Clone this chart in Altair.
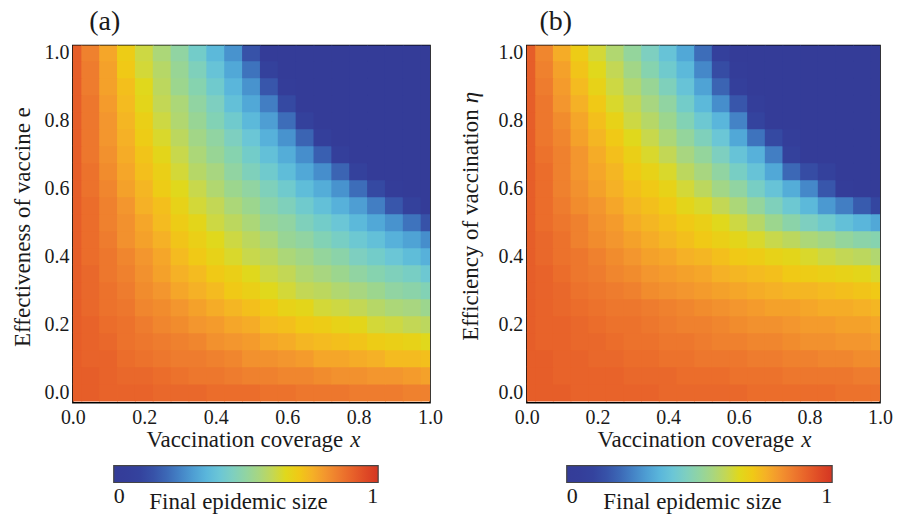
import altair as alt
import pandas as pd

# ---------------- data ----------------
X_GRID = [0.0, 0.05, 0.1, 0.15, 0.2, 0.25, 0.3, 0.35, 0.4, 0.45, 0.5,
          0.55, 0.6, 0.65, 0.7, 0.75, 0.8, 0.85, 0.9, 0.95, 1.0]
E_GRID = [0.0, 0.05, 0.1, 0.15, 0.2, 0.25, 0.3, 0.35, 0.4, 0.45, 0.5,
          0.55, 0.6, 0.65, 0.7, 0.75, 0.8, 0.85, 0.9, 0.95, 1.0]

# final epidemic size (percent), one row per e value (bottom row first), columns follow X_GRID
A_ROWS = [
    [91, 91, 90, 90, 90, 89, 89, 89, 88, 88, 88, 87, 87, 86, 86, 86, 85, 85, 85, 84, 84],
    [91, 91, 90, 89, 89, 88, 87, 86, 86, 85, 84, 84, 83, 83, 82, 81, 81, 80, 80, 79, 78],
    [91, 90, 90, 88, 87, 86, 85, 85, 84, 83, 81, 81, 80, 79, 77, 77, 76, 75, 73, 73, 72],
    [91, 90, 89, 87, 86, 85, 84, 83, 81, 80, 79, 77, 76, 74, 73, 72, 71, 69, 68, 67, 65],
    [91, 90, 88, 87, 85, 83, 82, 80, 79, 77, 76, 73, 72, 70, 69, 67, 66, 63, 62, 60, 59],
    [91, 89, 87, 86, 83, 82, 80, 78, 76, 74, 72, 70, 67, 66, 63, 62, 60, 58, 56, 55, 53],
    [91, 89, 87, 85, 82, 80, 77, 75, 73, 70, 68, 65, 63, 60, 59, 57, 55, 53, 50, 49, 47],
    [91, 89, 86, 84, 81, 78, 75, 73, 70, 68, 65, 62, 60, 57, 55, 53, 50, 48, 46, 44, 41],
    [91, 88, 86, 83, 80, 77, 73, 70, 67, 64, 61, 59, 56, 54, 51, 49, 45, 43, 40, 37, 34],
    [91, 88, 85, 81, 78, 75, 71, 68, 65, 62, 59, 56, 52, 50, 47, 44, 41, 38, 34, 31, 27],
    [91, 88, 84, 81, 77, 73, 69, 66, 62, 59, 56, 52, 50, 46, 43, 40, 36, 32, 28, 22, 15],
    [91, 88, 84, 80, 75, 72, 67, 63, 60, 56, 53, 49, 46, 42, 38, 34, 30, 24, 16, 8, 1],
    [91, 87, 83, 78, 74, 69, 65, 61, 57, 53, 50, 46, 42, 37, 33, 28, 21, 12, 3, 0, 0],
    [91, 87, 82, 77, 72, 68, 63, 58, 55, 50, 46, 42, 37, 32, 27, 19, 8, 1, 0, 0, 0],
    [91, 86, 81, 76, 71, 66, 61, 56, 52, 48, 43, 38, 33, 27, 18, 6, 0, 0, 0, 0, 0],
    [91, 86, 80, 75, 69, 64, 59, 54, 50, 45, 40, 34, 28, 19, 6, 0, 0, 0, 0, 0, 0],
    [91, 86, 80, 74, 68, 62, 57, 52, 47, 42, 36, 30, 21, 8, 0, 0, 0, 0, 0, 0, 0],
    [91, 86, 79, 73, 66, 60, 56, 50, 45, 38, 32, 24, 12, 1, 0, 0, 0, 0, 0, 0, 0],
    [91, 85, 78, 72, 65, 59, 53, 48, 42, 35, 28, 16, 3, 0, 0, 0, 0, 0, 0, 0, 0],
    [91, 85, 78, 70, 63, 58, 52, 46, 39, 32, 22, 8, 0, 0, 0, 0, 0, 0, 0, 0, 0],
    [91, 84, 77, 69, 62, 56, 50, 43, 36, 28, 15, 1, 0, 0, 0, 0, 0, 0, 0, 0, 0],
]

B_ROWS = [
    [91, 91, 91, 90, 90, 90, 90, 90, 89, 89, 89, 89, 89, 88, 88, 88, 88, 88, 87, 87, 87],
    [91, 91, 90, 90, 90, 90, 89, 89, 89, 88, 88, 88, 87, 87, 87, 86, 86, 86, 86, 85, 85],
    [91, 91, 90, 90, 89, 89, 88, 88, 87, 87, 86, 86, 86, 85, 85, 84, 84, 83, 83, 82, 82],
    [91, 90, 90, 89, 89, 88, 87, 87, 86, 86, 85, 84, 84, 83, 83, 82, 81, 81, 80, 80, 79],
    [91, 90, 90, 89, 88, 87, 87, 86, 85, 84, 84, 83, 82, 81, 81, 80, 79, 79, 78, 78, 77],
    [91, 90, 89, 88, 87, 86, 86, 85, 84, 83, 82, 81, 80, 79, 78, 78, 77, 76, 76, 75, 74],
    [91, 90, 89, 87, 86, 85, 84, 82, 81, 80, 79, 78, 77, 76, 75, 74, 74, 73, 72, 71, 70],
    [91, 90, 88, 86, 85, 83, 82, 80, 79, 78, 77, 75, 74, 73, 72, 70, 69, 68, 67, 66, 64],
    [91, 89, 87, 86, 84, 82, 80, 78, 77, 75, 74, 72, 70, 69, 67, 66, 64, 62, 60, 59, 57],
    [91, 89, 87, 84, 82, 80, 78, 76, 74, 72, 70, 68, 66, 64, 61, 59, 56, 54, 51, 49, 48],
    [91, 88, 86, 84, 81, 79, 76, 74, 72, 70, 68, 65, 62, 58, 53, 49, 45, 42, 38, 35, 32],
    [91, 88, 85, 82, 80, 77, 74, 72, 70, 66, 64, 60, 56, 51, 46, 41, 36, 29, 24, 17, 11],
    [91, 88, 84, 81, 78, 75, 72, 70, 67, 63, 59, 54, 50, 44, 39, 33, 26, 16, 3, 0, 0],
    [91, 88, 84, 80, 77, 74, 70, 67, 64, 59, 55, 50, 44, 39, 32, 20, 13, 8, 1, 0, 0],
    [91, 87, 84, 80, 76, 72, 68, 64, 60, 55, 51, 45, 39, 34, 24, 8, 0, 0, 0, 0, 0],
    [91, 86, 83, 78, 74, 70, 65, 61, 56, 51, 46, 40, 32, 22, 12, 4, 0, 0, 0, 0, 0],
    [91, 86, 82, 77, 72, 67, 62, 58, 53, 47, 41, 35, 25, 10, 0, 0, 0, 0, 0, 0, 0],
    [91, 86, 80, 75, 70, 64, 60, 55, 50, 43, 36, 27, 16, 5, 0, 0, 0, 0, 0, 0, 0],
    [91, 85, 79, 73, 67, 62, 57, 52, 46, 39, 31, 19, 6, 0, 0, 0, 0, 0, 0, 0, 0],
    [91, 84, 78, 71, 65, 60, 54, 48, 42, 36, 26, 13, 3, 0, 0, 0, 0, 0, 0, 0, 0],
    [91, 83, 76, 69, 63, 57, 51, 45, 39, 32, 21, 7, 0, 0, 0, 0, 0, 0, 0, 0, 0],
]

X_TICKS = [0.0, 0.2, 0.4, 0.6, 0.8, 1.0]
Y_TICKS = [0.0, 0.2, 0.4, 0.6, 0.8, 1.0]
CB_TICKS = [0, 1]

PANEL_LABELS = ["(a)", "(b)"]
X_TITLE = "Vaccination coverage"
X_TITLE_VAR = "x"
Y_TITLE_A = "Effectiveness of vaccine e"
Y_TITLE_B = "Efficiency of vaccination"
Y_TITLE_B_VAR = "\u03b7"
CB_TITLE = "Final epidemic size"

# colour map (jet-like, sampled from the colour bar), evenly spaced 0 .. 1
CMAP = ["#343c98", "#343e9a", "#34439e", "#3752a8", "#3c68b6", "#4483c6",
        "#4e9ed3", "#5ab6db", "#6bc6d6", "#7ecfc0", "#91d4a2", "#a8d680",
        "#c3d755", "#e0d81c", "#f0c916", "#f5b126", "#f3962e", "#ee7c2e",
        "#e8632a", "#df4b26", "#d43623"]

FONT = "Liberation Serif, Times New Roman, serif"
INK = "#1a1a1a"
PLOT_H = 358
HALF = 0.0262   # half a grid step plus a hair of overlap so no seams show


def grid_frame(rows):
    recs = []
    for e, row in zip(E_GRID, rows):
        assert len(row) == len(X_GRID)
        for x, v in zip(X_GRID, row):
            recs.append(dict(x0=x - HALF, x1=x + HALF, e0=e - HALF, e1=e + HALF, v=v / 100.0))
    return pd.DataFrame(recs)


def text_layer(txt, x, y, size, angle=0, align="center", italic=False):
    return alt.Chart(pd.DataFrame({"t": [txt]})).mark_text(
        font=FONT, fontSize=size, angle=angle, align=align, baseline="alphabetic",
        fontStyle="italic" if italic else "normal", color=INK
    ).encode(x=alt.value(x), y=alt.value(y), text="t:N")


def panel(rows, width, label, label_x, ytexts, xtitle_end, cb_x, cb_len):
    df = grid_frame(rows)
    xs = alt.Scale(domain=[0, 1], nice=False, zero=False)
    ys = alt.Scale(domain=[-0.03, 1.02], nice=False, zero=False)
    cs = alt.Scale(domain=[0, 1], range=CMAP)
    heat = alt.Chart(df).mark_rect(clip=True).encode(
        x=alt.X("x0:Q", scale=xs,
                axis=alt.Axis(values=X_TICKS, format=".1f", title=None, ticks=False,
                              domain=False, grid=False, labelPadding=5, labelFlush=False)),
        x2="x1:Q",
        y=alt.Y("e0:Q", scale=ys,
                axis=alt.Axis(values=Y_TICKS, format=".1f", title=None, ticks=False,
                              domain=False, grid=False, labelPadding=4, labelFlush=False)),
        y2="e1:Q",
        color=alt.Color("v:Q", scale=cs, legend=alt.Legend(
            type="gradient", orient="none", legendX=cb_x, legendY=421,
            direction="horizontal", gradientLength=cb_len, gradientThickness=17,
            values=CB_TICKS, format=".0f", title=None, labelAlign="center",
            labelOffset=4, labelBaseline="top",
            gradientStrokeColor="#444444", gradientStrokeWidth=1.2)),
    )
    layers = [heat,
              text_layer(label, label_x, -16, 28),
              text_layer(X_TITLE, xtitle_end, 402, 23, align="right"),
              text_layer(X_TITLE_VAR, xtitle_end + 7, 402, 23, align="left", italic=True),
              text_layer(CB_TITLE, 166, 465, 23)]
    layers += ytexts
    return alt.layer(*layers).properties(width=width, height=PLOT_H)


panel_a = panel(A_ROWS, 358, PANEL_LABELS[0], 32,
                [text_layer(Y_TITLE_A, -43, 182, 23, angle=270)],
                271, 41, 265)
panel_b = panel(B_ROWS, 354, PANEL_LABELS[1], 29,
                [text_layer(Y_TITLE_B, -49, 64, 23, angle=270, align="right"),
                 text_layer(Y_TITLE_B_VAR, -49, 58, 23, angle=270, align="left", italic=True)],
                268, 40, 266)

chart = alt.hconcat(panel_a, panel_b, spacing=97, bounds="flush").resolve_scale(
    color="independent"
).configure_view(
    stroke="black", strokeWidth=1.5
).configure_axis(
    labelFont=FONT, labelFontSize=20, labelColor=INK
).configure_legend(
    labelFont=FONT, labelFontSize=22, labelColor=INK
).properties(
    padding={"left": 11, "top": 6, "right": 5, "bottom": 5},
    background="white",
)

chart.save("out.html", embed_options={"renderer": "svg", "actions": False})
